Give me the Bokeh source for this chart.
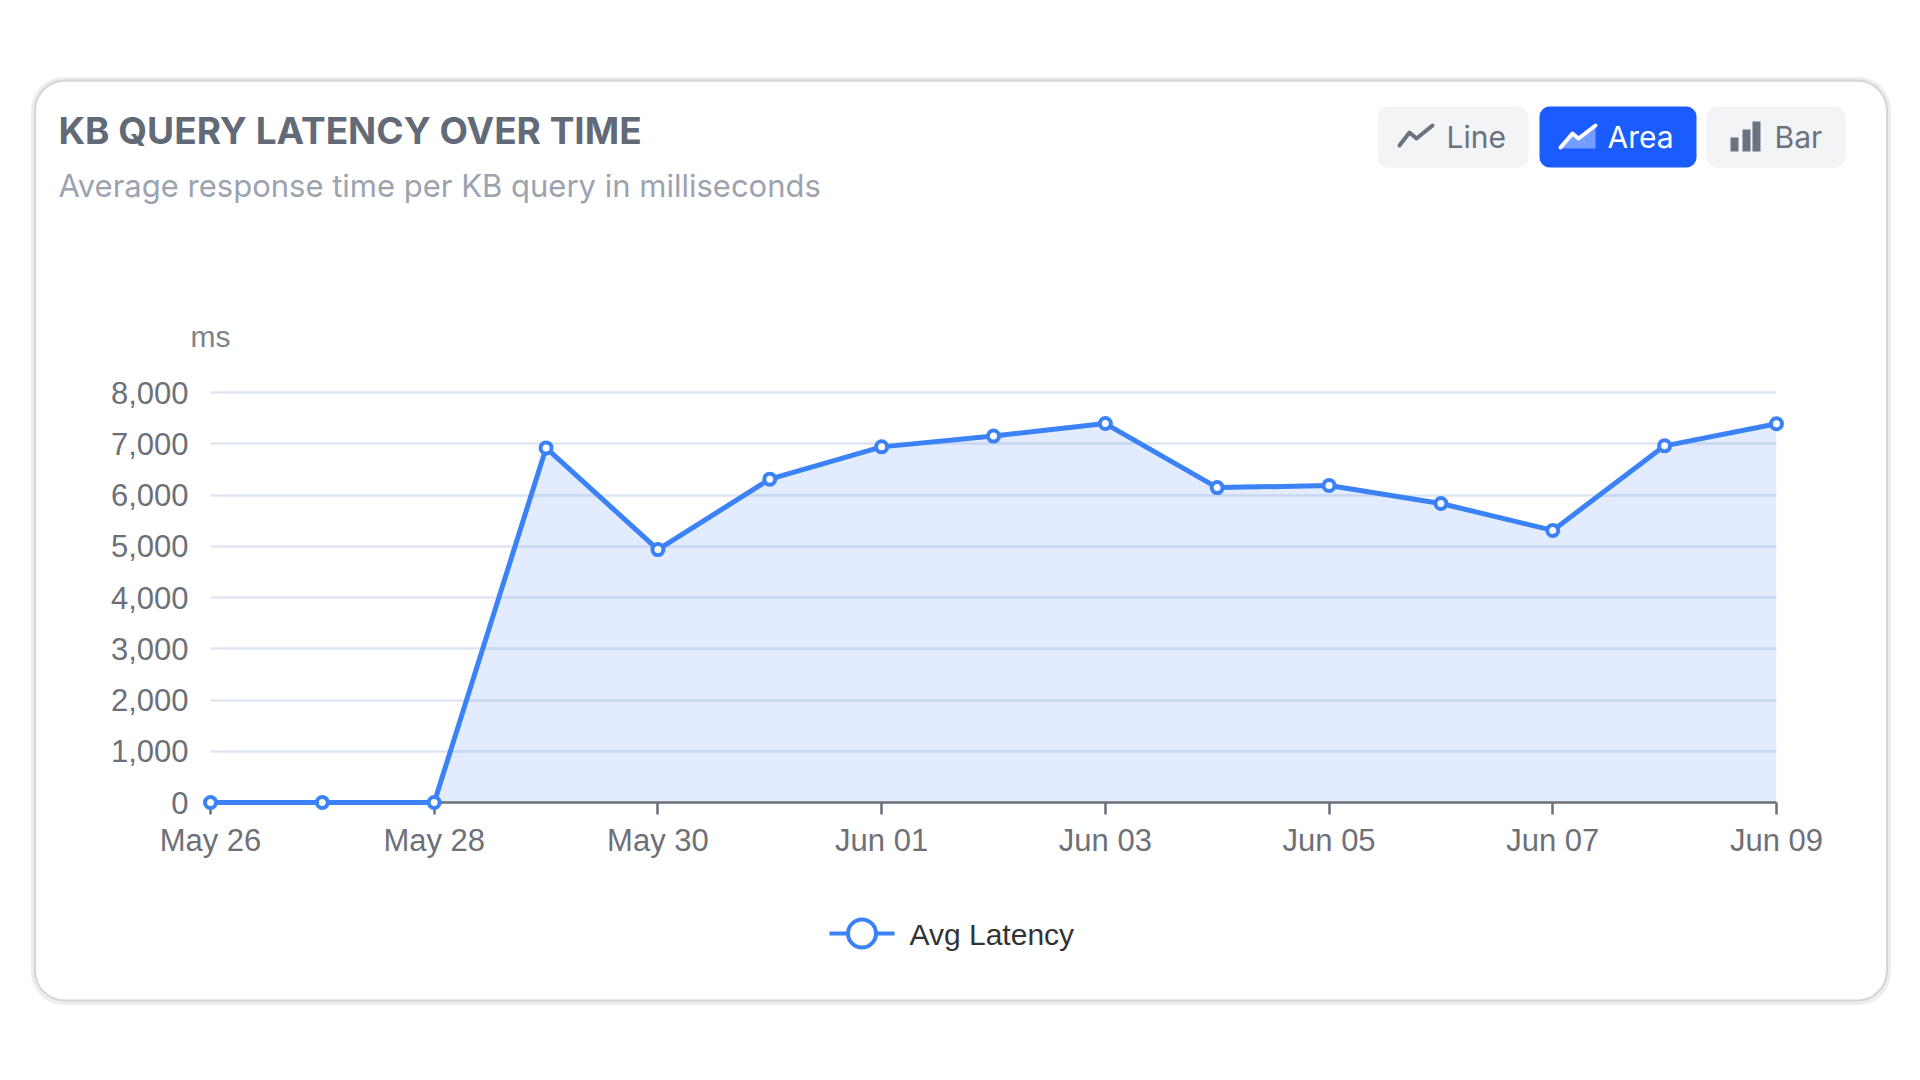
import pandas as pd
from bokeh.plotting import figure
from bokeh.models import (ColumnDataSource, FixedTicker, NumeralTickFormatter, DatetimeTickFormatter,
                          Range1d)
from bokeh.core.properties import value
from bokeh.embed import file_html
from bokeh.resources import INLINE

# ---------------- data ----------------
dates = ["2025-05-26", "2025-05-27", "2025-05-28", "2025-05-29", "2025-05-30",
         "2025-05-31", "2025-06-01", "2025-06-02", "2025-06-03", "2025-06-04",
         "2025-06-05", "2025-06-06", "2025-06-07", "2025-06-08", "2025-06-09"]
latency = [0, 0, 0, 6920, 4935, 6310, 6940, 7150, 7395, 6145, 6185, 5835, 5310, 6960, 7390]
y_ticks = [0, 1000, 2000, 3000, 4000, 5000, 6000, 7000, 8000]
x_tick_dates = ["2025-05-26", "2025-05-28", "2025-05-30", "2025-06-01",
                "2025-06-03", "2025-06-05", "2025-06-07", "2025-06-09"]
title_text = "KB QUERY LATENCY OVER TIME"
subtitle_text = "Average response time per KB query in milliseconds"
y_unit = "ms"
series_name = "Avg Latency"
button_labels = ["Line", "Area", "Bar"]
active_button = "Area"

# ---------------- canvas geometry (pixels) ----------------
W, H = 1904, 1064
F_LEFT, F_RIGHT, F_TOP, F_BOTTOM = 210, 1776, 390, 802

BLUE = "#3b82f6"
AXIS = "#6E7079"

x = list(pd.to_datetime(dates))
src = ColumnDataSource(dict(x=x, y=latency, y0=[0] * len(latency)))

p = figure(width=W, height=H, x_axis_type="datetime", output_backend="svg",
           toolbar_location=None, title=None,
           x_range=Range1d(x[0], x[-1]), y_range=Range1d(y_ticks[0], 8040),
           min_border_left=F_LEFT, min_border_right=W - F_RIGHT,
           min_border_top=F_TOP, min_border_bottom=H - F_BOTTOM)
p.background_fill_color = "white"
p.border_fill_color = "white"
p.outline_line_color = None
# pixel ranges for the card decorations (map frame edges to canvas pixels)
p.extra_x_ranges = {"px": Range1d(F_LEFT, F_RIGHT)}
p.extra_y_ranges = {"py": Range1d(F_BOTTOM, F_TOP)}

# axes
tick_ms = [int(t) for t in (pd.to_datetime(x_tick_dates).astype("int64") // 10**6)]
p.xaxis.ticker = FixedTicker(ticks=tick_ms)
fmt = "%b %d"
p.xaxis.formatter = DatetimeTickFormatter(days=fmt, months=fmt, hours=fmt, years=fmt)
p.xaxis.axis_line_color = AXIS
p.xaxis.axis_line_width = 2.5
p.xaxis.major_tick_line_color = AXIS
p.xaxis.major_tick_line_width = 2.5
p.xaxis.major_tick_out = 12
p.xaxis.major_tick_in = 0
p.xaxis.minor_tick_line_color = None
p.xaxis.major_label_standoff = 8

p.yaxis.ticker = FixedTicker(ticks=y_ticks)
p.yaxis.formatter = NumeralTickFormatter(format="0,0")
p.yaxis.axis_line_color = None
p.yaxis.major_tick_line_color = None
p.yaxis.minor_tick_line_color = None
p.yaxis.major_tick_out = 0
p.yaxis.major_tick_in = 0
p.yaxis.major_label_standoff = 22

for ax in (p.xaxis, p.yaxis):
    ax.major_label_text_font = "Liberation Sans"
    ax.major_label_text_font_size = "31px"
    ax.major_label_text_color = AXIS

p.xgrid.visible = False
p.ygrid.grid_line_color = "#E0E6F1"
p.ygrid.grid_line_width = 2.5

# series
p.varea(x="x", y1="y0", y2="y", source=src, fill_color=BLUE, fill_alpha=0.15)
line_r = p.line(x="x", y="y", source=src, line_color=BLUE, line_width=5, level="overlay")
scat_r = p.scatter(x="x", y="y", source=src, size=11, fill_color="white",
                   line_color=BLUE, line_width=4, level="overlay")

PX = dict(x_range_name="px", y_range_name="py", level="overlay")

# ---------------- legend (key below the chart) ----------------
p.line(x=[829, 894], y=[933, 933], line_color=BLUE, line_width=4, **PX)
p.quad(left=[847.5], right=[875.5], top=[919], bottom=[947], border_radius=14,
       fill_color="white", line_color=BLUE, line_width=4, **PX)
p.text(x=[909], y=[934], text=[series_name], text_font=value("Liberation Sans"),
       text_font_size=value("30px"), text_color="#333333", text_baseline="alphabetic", **PX)

# ---------------- card ----------------
p.quad(left=[33], right=[1888], top=[79], bottom=[1002], fill_alpha=0,
       line_color="#ededed", line_width=5, border_radius=31, **PX)
p.quad(left=[34.5], right=[1886.5], top=[80], bottom=[1000], fill_alpha=0,
       line_color="#d6d6d6", line_width=2, border_radius=30, **PX)

# ---------------- header texts ----------------
p.text(x=[58], y=[130], text=[title_text], text_font=value("Inter"), text_font_size=value("37px"),
       text_font_style="bold", text_color="#636a77", text_baseline="alphabetic", **PX)
p.text(x=[58], y=[185], text=[subtitle_text], text_font=value("Inter"), text_font_size=value("31px"),
       text_color="#9ca3af", text_baseline="alphabetic", **PX)
p.text(x=[210], y=[336], text=[y_unit], text_font=value("Liberation Sans"), text_font_size=value("30px"),
       text_align="center", text_color="#7d828c", text_baseline="alphabetic", **PX)

# ---------------- buttons ----------------
btn_geom = {"Line": (1377, 1528, 1446), "Area": (1539, 1696, 1607), "Bar": (1706, 1845, 1774)}
for name in button_labels:
    l, r, tx = btn_geom[name]
    active = name == active_button
    p.quad(left=[l], right=[r], top=[106], bottom=[167],
           fill_color="#1a5cff" if active else "#f3f4f6", line_color=None, border_radius=10, **PX)
    p.text(x=[tx], y=[136], text=[name], text_font=value("Inter"), text_font_size=value("30px"),
           text_color="white" if active else "#6b7280", text_baseline="alphabetic", **PX)

# line icon
p.line(x=[1399, 1409, 1416, 1432], y=[145, 132, 138, 125], line_color="#6b7280", line_width=4,
       line_join="round", line_cap="round", **PX)
# area icon
p.patch(x=[1560, 1560, 1572, 1578, 1595, 1595], y=[148, 147, 133, 138, 125, 148],
        fill_color="white", fill_alpha=0.4, line_color=None, **PX)
p.line(x=[1560, 1572, 1578, 1595], y=[147, 133, 138, 125], line_color="white", line_width=4,
       line_join="round", line_cap="round", **PX)
# bar icon
p.quad(left=[1730, 1742, 1752], right=[1738, 1750, 1760], top=[137, 129, 121], bottom=[151, 151, 151],
       fill_color="#6b7280", line_color=None, **PX)

open("out.html", "w").write(file_html(p, INLINE))
